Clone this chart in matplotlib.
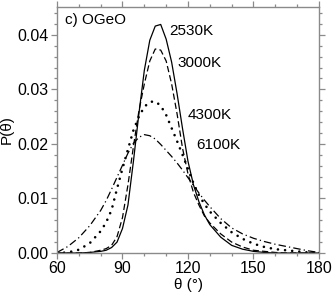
import matplotlib
matplotlib.use("Agg")
import matplotlib.pyplot as plt

plt.rcParams['font.family'] = ['Liberation Sans', 'DejaVu Sans']

theta = [60, 65, 70, 75, 80, 82.5, 85, 87.5, 90, 92.5, 95, 97.5, 100, 102.5, 105,
         107.5, 110, 112.5, 115, 117.5, 120, 122.5, 125, 127.5, 130, 135, 140,
         145, 150, 155, 160, 165, 170, 175, 180]

p_2530 = [0, 0, 0, 0.0001, 0.0003, 0.0005, 0.001, 0.002, 0.0045, 0.0088, 0.0168,
          0.0255, 0.0335, 0.039, 0.0416, 0.0419, 0.0392, 0.035, 0.0292, 0.0228,
          0.0168, 0.0125, 0.0094, 0.007, 0.0052, 0.0029, 0.0014, 0.0007, 0.0003,
          0.0001, 0, 0, 0, 0, 0]
p_3000 = [0, 0, 0, 0.0001, 0.0005, 0.0008, 0.0014, 0.003, 0.0065, 0.0125, 0.0195,
          0.026, 0.031, 0.0352, 0.0374, 0.0372, 0.0352, 0.031, 0.0255, 0.0192,
          0.0145, 0.0111, 0.0088, 0.0068, 0.0055, 0.0035, 0.002, 0.0011, 0.0005,
          0.0003, 0.0001, 0, 0, 0, 0]
p_4300 = [0, 0.0001, 0.0006, 0.0018, 0.004, 0.0056, 0.0079, 0.0118, 0.0155,
          0.019, 0.0225, 0.025, 0.0268, 0.0277, 0.0278, 0.027, 0.0253, 0.0229,
          0.0205, 0.018, 0.0154, 0.0128, 0.0106, 0.009, 0.0076, 0.0055, 0.0038,
          0.0026, 0.0017, 0.0011, 0.0007, 0.0005, 0.0003, 0.0001, 0]
p_6100 = [0.0001, 0.0012, 0.0028, 0.005, 0.0078, 0.0096, 0.0117, 0.0139, 0.0161,
          0.0183, 0.0201, 0.0212, 0.0217, 0.0215, 0.0209, 0.0199, 0.0188, 0.0177,
          0.0165, 0.0152, 0.0138, 0.0124, 0.011, 0.0097, 0.0085, 0.0063, 0.0046,
          0.0035, 0.0027, 0.0021, 0.0016, 0.0012, 0.0008, 0.0004, 0.0001]

labels = ['2530K', '3000K', '4300K', '6100K']
label_x = [111.4, 115.3, 119.9, 123.7]
label_y = [0.0407, 0.0349, 0.0253, 0.0198]

fig = plt.figure(figsize=(3.32, 2.93), dpi=100)
ax = fig.add_axes([57/332, 1-253/293, 262/332, 246/293])

ax.plot(theta, p_2530, color='black', lw=0.9, ls='-')
ax.plot(theta, p_3000, color='black', lw=0.9, ls=(0, (5, 2.5)))
ax.plot(theta, p_4300, color='black', lw=1.9, ls=(0, (0.01, 2.7)),
        dash_capstyle='round')
ax.plot(theta, p_6100, color='black', lw=0.9, ls=(0, (6, 2.5, 1, 2.5)))

for t, x, y in zip(labels, label_x, label_y):
    ax.text(x, y, t, fontsize=11, ha='left', va='center')

ax.text(0.03, 0.947, 'c) OGeO', transform=ax.transAxes, fontsize=11,
        ha='left', va='center')

ax.set_xlim(60, 180)
ax.set_ylim(0, 0.0451)
ax.set_xticks([60, 90, 120, 150, 180])
ax.set_xticks(range(60, 181, 10), minor=True)
ax.set_yticks([0, 0.01, 0.02, 0.03, 0.04])
ax.set_yticklabels(['0.00', '0.01', '0.02', '0.03', '0.04'])
ax.set_yticks([i * 0.002 for i in range(23)], minor=True)

gray = '#8a8a8a'
for s in ax.spines.values():
    s.set_color(gray)
    s.set_linewidth(1.0)
ax.tick_params(which='both', direction='out', color=gray, width=0.9,
               top=True, right=True, labelsize=11.5, pad=1.5)
ax.tick_params(which='major', length=4.5)
ax.tick_params(which='minor', length=2.5)

ax.set_xlabel('θ (°)', fontsize=11, labelpad=1)
ax.set_ylabel('P(θ)', fontsize=11, labelpad=3)

fig.savefig('out.png', dpi=100)
